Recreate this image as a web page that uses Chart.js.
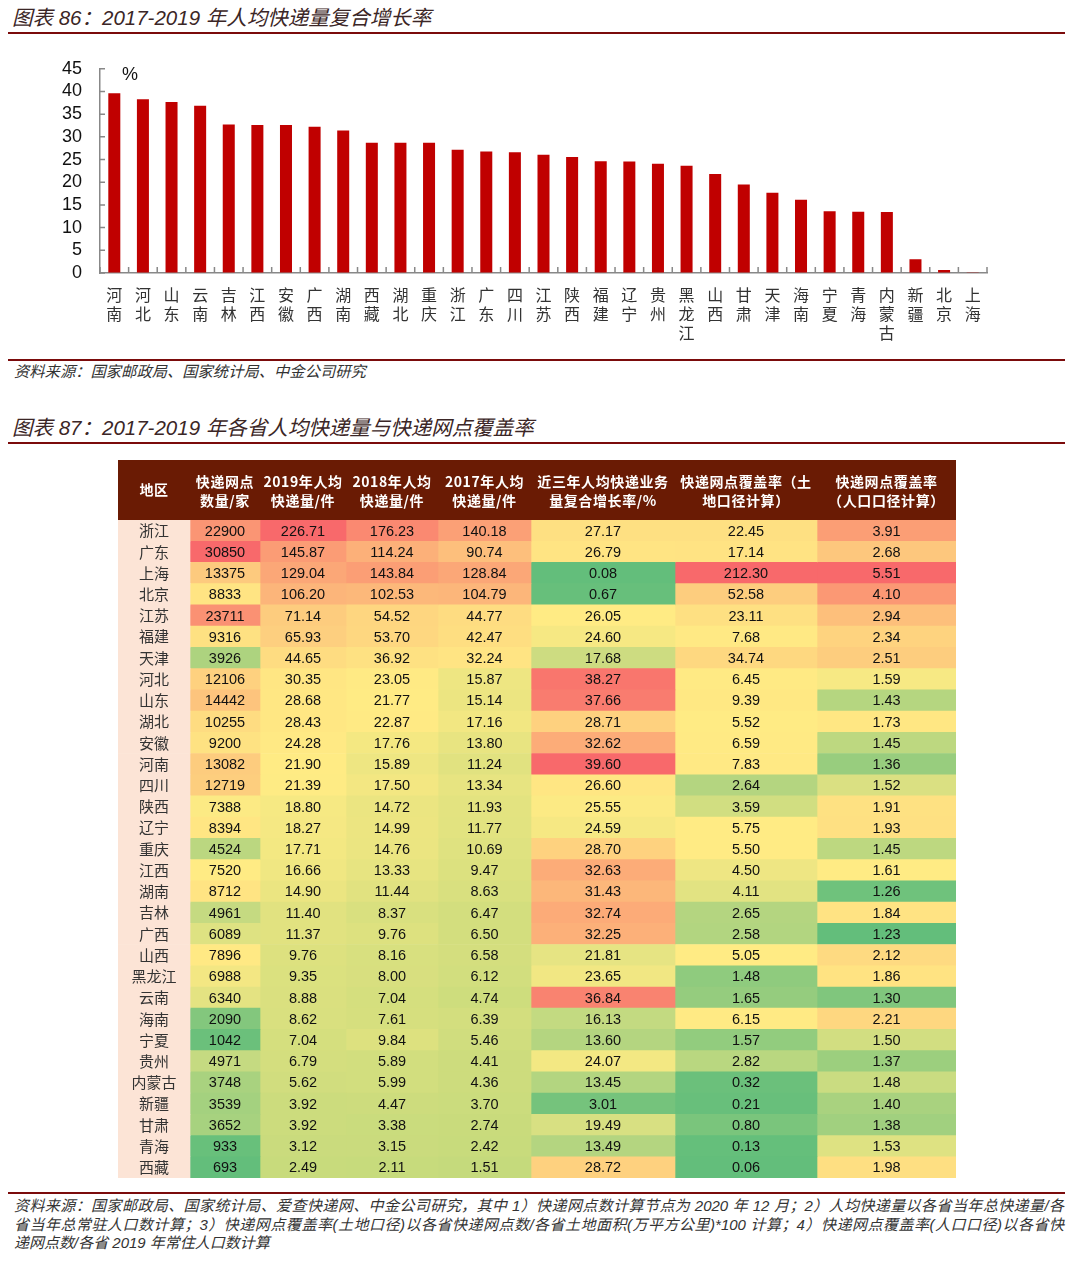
<!DOCTYPE html>
<html lang="zh">
<head>
<meta charset="UTF-8">
<title>2017-2019 年人均快递量</title>
<script src="https://cdn.jsdelivr.net/npm/chart.js@4"></script>
<style>
  body {
    margin: 0;
    width: 1080px;
    height: 1266px;
    background: #fff;
    position: relative;
    overflow: hidden;
    font-family: "Liberation Sans", "Noto Sans CJK SC", sans-serif;
  }
  /* chart titles */
  .title {
    position: absolute;
    left: 12px;
    font-size: 20.5px;
    line-height: 24px;
    font-style: italic;
    color: #3b2626;
    white-space: nowrap;
  }
  .rule {
    position: absolute;
    left: 8px;
    width: 1057px;
    background: #7b0b0b;
  }
  .note {
    position: absolute;
    left: 14px;
    font-size: 15.3px;
    line-height: 18.5px;
    font-style: italic;
    color: #333;
    white-space: nowrap;
  }
  .foot {
    position: absolute;
    left: 14px;
    width: 1050px;
    font-size: 15px;
    line-height: 18.5px;
    font-style: italic;
    color: #333;
  }
  .foot div { white-space: nowrap; }
  .foot .j { text-align: justify; text-align-last: justify; white-space: normal; }
  .box { position: absolute; }
</style>
</head>
<body>
  <div class="title" style="top:6px">图表 86：2017-2019 年人均快递量复合增长率</div>
  <div class="rule" style="top:32px;height:2px"></div>

  <div class="box" style="left:0;top:40px;width:1080px;height:310px">
    <canvas id="barChart"></canvas>
  </div>

  <div class="rule" style="top:359px;height:2px"></div>
  <div class="note" style="top:363px">资料来源：国家邮政局、国家统计局、中金公司研究</div>

  <div class="title" style="top:416px">图表 87：2017-2019 年各省人均快递量与快递网点覆盖率</div>
  <div class="rule" style="top:442px;height:2px"></div>

  <div class="box" style="left:118px;top:460px;width:838px;height:718px">
    <canvas id="tableChart"></canvas>
  </div>

  <div class="rule" style="top:1192px;height:1.5px"></div>
  <div class="foot" style="top:1197px">
    <div class="j">资料来源：国家邮政局、国家统计局、爱查快递网、中金公司研究，其中 1）快递网点数计算节点为 2020 年 12 月；2）人均快递量以各省当年总快递量/各</div>
    <div class="j">省当年总常驻人口数计算；3）快递网点覆盖率(土地口径)以各省快递网点数/各省土地面积(万平方公里)*100 计算；4）快递网点覆盖率(人口口径)以各省快</div>
    <div>递网点数/各省 2019 年常住人口数计算</div>
  </div>

<script>
  // ---- bar chart data (图表 86) ----
  const barLabels = ['河南', '河北', '山东', '云南', '吉林', '江西', '安徽', '广西', '湖南', '西藏', '湖北',
    '重庆', '浙江', '广东', '四川', '江苏', '陕西', '福建', '辽宁', '贵州', '黑龙江', '山西', '甘肃', '天津',
    '海南', '宁夏', '青海', '内蒙古', '新疆', '北京', '上海'];
  const barValues = [39.60, 38.27, 37.66, 36.84, 32.74, 32.63, 32.62, 32.25, 31.43, 28.72, 28.71,
    28.70, 27.17, 26.79, 26.60, 26.05, 25.55, 24.60, 24.59, 24.07, 23.65, 21.81, 19.49, 17.68,
    16.13, 13.60, 13.49, 13.45, 3.01, 0.67, 0.08];

  // ---- table data (图表 87) ----
  const regions = ['浙江', '广东', '上海', '北京', '江苏', '福建', '天津', '河北', '山东', '湖北', '安徽',
    '河南', '四川', '陕西', '辽宁', '重庆', '江西', '湖南', '吉林', '广西', '山西', '黑龙江', '云南',
    '海南', '宁夏', '贵州', '内蒙古', '新疆', '甘肃', '青海', '西藏'];
  const outlets = [22900, 30850, 13375, 8833, 23711, 9316, 3926, 12106, 14442, 10255, 9200,
    13082, 12719, 7388, 8394, 4524, 7520, 8712, 4961, 6089, 7896, 6988, 6340,
    2090, 1042, 4971, 3748, 3539, 3652, 933, 693];
  const perCap2019 = [226.71, 145.87, 129.04, 106.20, 71.14, 65.93, 44.65, 30.35, 28.68, 28.43, 24.28,
    21.90, 21.39, 18.80, 18.27, 17.71, 16.66, 14.90, 11.40, 11.37, 9.76, 9.35, 8.88,
    8.62, 7.04, 6.79, 5.62, 3.92, 3.92, 3.12, 2.49];
  const perCap2018 = [176.23, 114.24, 143.84, 102.53, 54.52, 53.70, 36.92, 23.05, 21.77, 22.87, 17.76,
    15.89, 17.50, 14.72, 14.99, 14.76, 13.33, 11.44, 8.37, 9.76, 8.16, 8.00, 7.04,
    7.61, 9.84, 5.89, 5.99, 4.47, 3.38, 3.15, 2.11];
  const perCap2017 = [140.18, 90.74, 128.84, 104.79, 44.77, 42.47, 32.24, 15.87, 15.14, 17.16, 13.80,
    11.24, 13.34, 11.93, 11.77, 10.69, 9.47, 8.63, 6.47, 6.50, 6.58, 6.12, 4.74,
    6.39, 5.46, 4.41, 4.36, 3.70, 2.74, 2.42, 1.51];
  const growth = [27.17, 26.79, 0.08, 0.67, 26.05, 24.60, 17.68, 38.27, 37.66, 28.71, 32.62,
    39.60, 26.60, 25.55, 24.59, 28.70, 32.63, 31.43, 32.74, 32.25, 21.81, 23.65, 36.84,
    16.13, 13.60, 24.07, 13.45, 3.01, 19.49, 13.49, 28.72];
  const coverLand = [22.45, 17.14, 212.30, 52.58, 23.11, 7.68, 34.74, 6.45, 9.39, 5.52, 6.59,
    7.83, 2.64, 3.59, 5.75, 5.50, 4.50, 4.11, 2.65, 2.58, 5.05, 1.48, 1.65,
    6.15, 1.57, 2.82, 0.32, 0.21, 0.80, 0.13, 0.06];
  const coverPop = [3.91, 2.68, 5.51, 4.10, 2.94, 2.34, 2.51, 1.59, 1.43, 1.73, 1.45,
    1.36, 1.52, 1.91, 1.93, 1.45, 1.61, 1.26, 1.84, 1.23, 2.12, 1.86, 1.30,
    2.21, 1.50, 1.37, 1.48, 1.40, 1.38, 1.53, 1.98];

  const headerLines = [
    ['地区'],
    ['快递网点', '数量/家'],
    ['2019年人均', '快递量/件'],
    ['2018年人均', '快递量/件'],
    ['2017年人均', '快递量/件'],
    ['近三年人均快递业务', '量复合增长率/%'],
    ['快递网点覆盖率（土', '地口径计算）'],
    ['快递网点覆盖率', '（人口口径计算）']
  ];
  const columns = [null, outlets, perCap2019, perCap2018, perCap2017, growth, coverLand, coverPop];
  const decimals = [0, 0, 2, 2, 2, 2, 2, 2];

  // column edges in px from the table's left side
  const colEdges = [0, 72, 142, 228, 320, 413, 557, 699, 838];

  // Excel style 3-colour scale: green (min) - yellow (mid percentile) - red (max)
  const GREEN = [99, 190, 123], PALE_GREEN = [197, 218, 124], YELLOW = [255, 235, 132], RED = [248, 105, 107];
  function mix(a, b, t) {
    return 'rgb(' + a.map((v, i) => Math.round(v + (b[i] - v) * t)).join(',') + ')';
  }
  // pool = values the scale is fitted on (per-capita columns share one scale)
  function heatColors(vals, pool, low, midPct) {
    const s = [...(pool || vals)].sort((a, b) => a - b);
    const min = s[0], max = s[s.length - 1];
    const mid = s[Math.floor((s.length - 1) * (midPct || 0.5))];
    const lo = low || GREEN;
    return vals.map(v => v <= mid
      ? mix(lo, YELLOW, (v - min) / (mid - min))
      : mix(YELLOW, RED, (v - mid) / (max - mid)));
  }
  const perCapPool = perCap2019.concat(perCap2018, perCap2017);
  const cellColors = [
    '#FCE4D6',
    heatColors(outlets),
    heatColors(perCap2019, perCapPool, PALE_GREEN, 0.7),
    heatColors(perCap2018, perCapPool, PALE_GREEN, 0.7),
    heatColors(perCap2017, perCapPool, PALE_GREEN, 0.7),
    heatColors(growth),
    heatColors(coverLand),
    heatColors(coverPop)
  ];

  // ---- 图表 86: bar chart ----
  const inwardTicks = {
    id: 'inwardTicks',
    afterDraw(chart) {
      const { ctx, chartArea: a, scales: { y } } = chart;
      ctx.save();
      ctx.strokeStyle = '#888';
      ctx.lineWidth = 1.5;
      ctx.beginPath();
      y.ticks.forEach(t => {
        const py = y.getPixelForValue(t.value);
        ctx.moveTo(a.left, py);
        ctx.lineTo(a.left + 5, py);
      });
      const n = barLabels.length;
      for (let i = 0; i <= n; i++) {
        const px = a.left + (a.right - a.left) * i / n;
        ctx.moveTo(px, a.bottom);
        ctx.lineTo(px, a.bottom - 6);
      }
      ctx.stroke();
      ctx.fillStyle = '#111';
      ctx.font = '18px "Liberation Sans"';
      ctx.textAlign = 'left';
      ctx.textBaseline = 'middle';
      ctx.fillText('%', a.left + 22, a.top + 6);
      ctx.restore();
    }
  };

  new Chart(document.getElementById('barChart'), {
    type: 'bar',
    data: {
      labels: barLabels.map(s => s.split('')),
      datasets: [{
        data: barValues,
        backgroundColor: '#C00000',
        borderWidth: 0,
        barPercentage: 0.5,
        categoryPercentage: 0.84
      }]
    },
    options: {
      responsive: true,
      maintainAspectRatio: false,
      animation: false,
      layout: { padding: { top: 25, right: 93, left: 0, bottom: 0 } },
      plugins: { legend: { display: false }, tooltip: { enabled: false } },
      scales: {
        x: {
          grid: { drawOnChartArea: false, drawTicks: false },
          border: { color: '#888', width: 1.5 },
          ticks: {
            color: '#333',
            font: { family: '"Noto Sans CJK SC"', size: 16, lineHeight: 1.2 },
            padding: 12,
            autoSkip: false,
            maxRotation: 0
          },
          afterFit: s => { s.height = 77; }
        },
        y: {
          min: 0,
          max: 45,
          grid: { drawOnChartArea: false, drawTicks: false },
          border: { color: '#888', width: 1.5 },
          ticks: {
            stepSize: 5,
            autoSkip: false,
            padding: 18,
            color: '#111',
            font: { family: '"Liberation Sans"', size: 18 }
          },
          afterFit: s => { s.width = 100; }
        }
      }
    },
    plugins: [inwardTicks]
  });

  // ---- 图表 87: heat map table ----
  const tableText = {
    id: 'tableText',
    afterDatasetsDraw(chart) {
      const { ctx, chartArea: a, scales: { x, y } } = chart;
      ctx.save();
      // header band
      ctx.fillStyle = '#6A1B04';
      ctx.fillRect(x.getPixelForValue(0), 0, x.getPixelForValue(colEdges[8]) - x.getPixelForValue(0), a.top);
      ctx.fillStyle = '#fff';
      ctx.textAlign = 'center';
      ctx.textBaseline = 'middle';
      ctx.font = 'bold 14px "Noto Sans CJK SC"';
      ctx.letterSpacing = '0.6px';
      headerLines.forEach((lines, i) => {
        const cx = x.getPixelForValue((colEdges[i] + colEdges[i + 1]) / 2);
        if (lines.length === 1) {
          ctx.fillText(lines[0], cx, a.top - 30);
        } else {
          ctx.fillText(lines[0], cx, a.top - 38);
          ctx.fillText(lines[1], cx, a.top - 19);
        }
      });
      ctx.letterSpacing = '0px';
      // cell text
      columns.forEach((vals, i) => {
        const cx = x.getPixelForValue((colEdges[i] + colEdges[i + 1]) / 2);
        regions.forEach((name, r) => {
          const cy = y.getPixelForValue(r) + 1;
          if (!vals) {
            ctx.fillStyle = '#333';
            ctx.font = '15px "Noto Sans CJK SC"';
            ctx.fillText(name, cx, cy - 1);
          } else {
            ctx.fillStyle = '#111';
            ctx.font = '14.5px "Liberation Sans"';
            ctx.fillText(vals[r].toFixed(decimals[i]), cx, cy);
          }
        });
      });
      ctx.restore();
    }
  };

  new Chart(document.getElementById('tableChart'), {
    type: 'bar',
    data: {
      labels: regions,
      datasets: columns.map((vals, i) => ({
        data: regions.map(() => [colEdges[i], colEdges[i + 1]]),
        backgroundColor: cellColors[i],
        borderWidth: 0,
        grouped: false,
        barPercentage: 1,
        categoryPercentage: 1
      }))
    },
    options: {
      indexAxis: 'y',
      responsive: true,
      maintainAspectRatio: false,
      animation: false,
      layout: { padding: { top: 60 } },
      plugins: { legend: { display: false }, tooltip: { enabled: false } },
      scales: {
        x: { type: 'linear', min: 0, max: colEdges[8], display: false },
        y: { display: false }
      }
    },
    plugins: [tableText]
  });
</script>
</body>
</html>
